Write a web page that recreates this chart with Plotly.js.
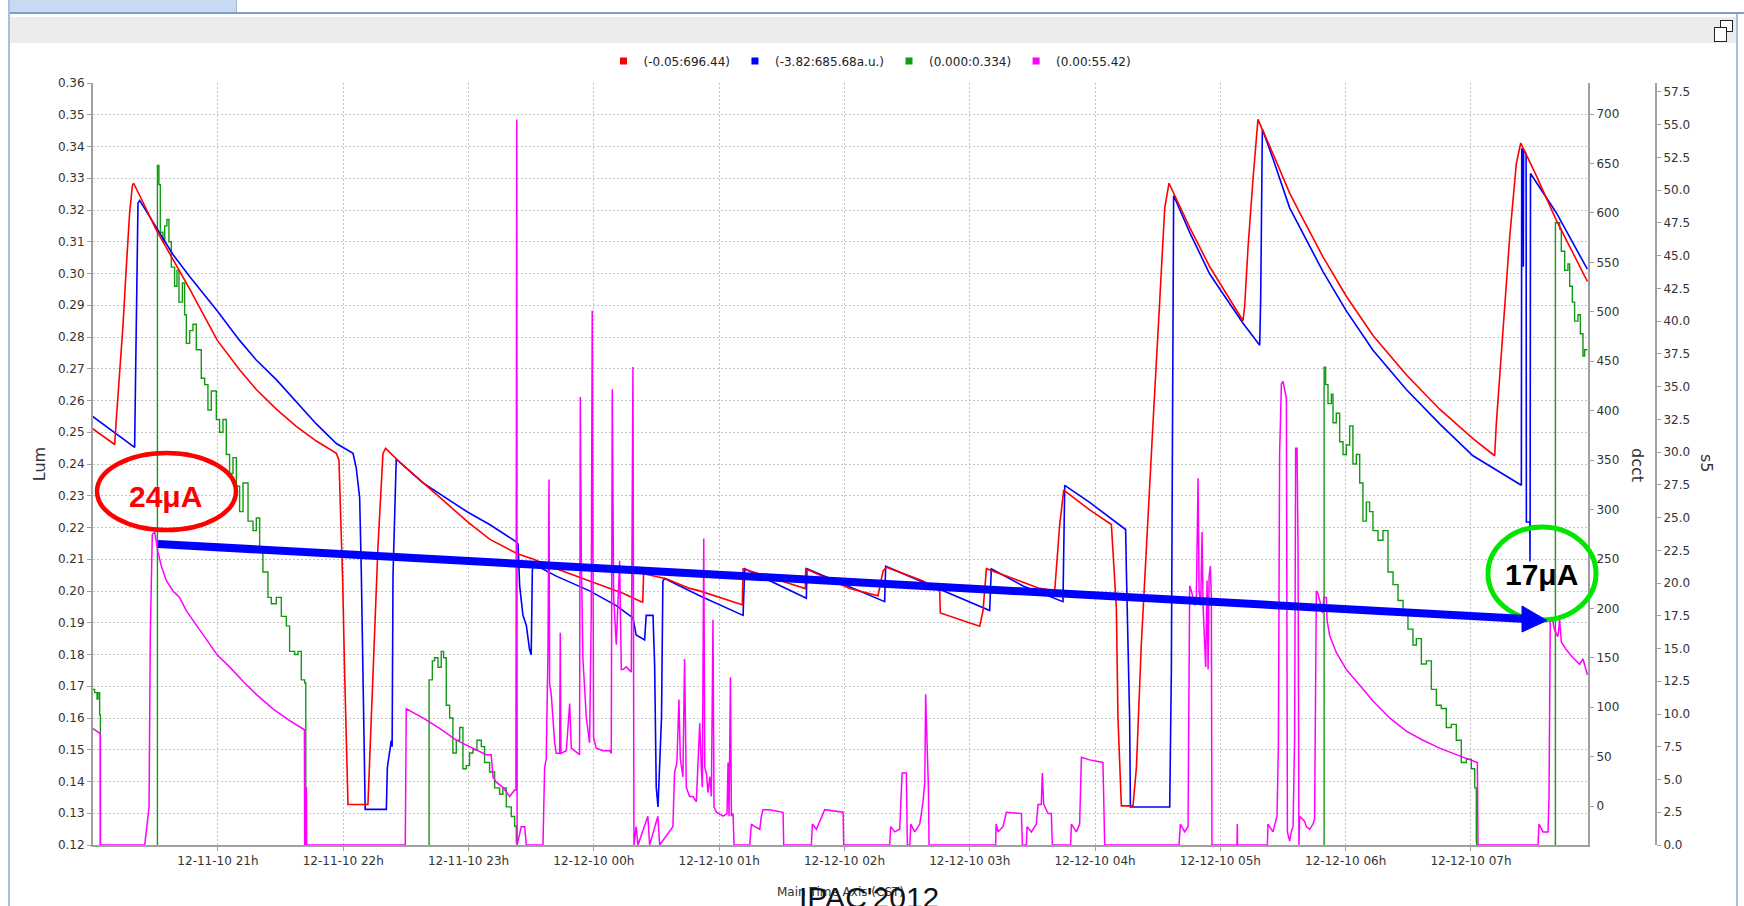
<!DOCTYPE html>
<html>
<head>
<meta charset="utf-8">
<script src="https://cdn.plot.ly/plotly-3.0.1.min.js"></script>
<style>
  html, body { margin: 0; padding: 0; background: #ffffff; width: 1744px; height: 906px; overflow: hidden; }
  .frame { position: absolute; }
  #chart { position: absolute; left: 0; top: 0; width: 1744px; height: 906px; }
</style>
</head>
<body>
<div class="frame" style="left:10px;top:0;width:226px;height:12px;background:#c6daf1;border-right:1px solid #9fb6da;"></div>
<div class="frame" style="left:9px;top:12px;width:1735px;height:2px;background:#7f9dcc;"></div>
<div class="frame" style="left:10px;top:17px;width:1727px;height:26px;background:#ececec;"></div>
<div class="frame" style="left:8px;top:0;width:2px;height:906px;background:#a9bfe1;"></div>
<div class="frame" style="left:1736px;top:14px;width:2px;height:892px;background:#a9bfe1;"></div>
<div class="frame" style="left:1720px;top:20px;width:11px;height:10px;border:1.5px solid #222;background:#fff;"></div>
<div class="frame" style="left:1714px;top:27px;width:11px;height:13px;border:1.5px solid #222;background:#fff;"></div>
<div id="chart"></div>
<script>
// ---- time offsets are hours after 2010-12-11 20:00 (CST) ----
// red series (dcct axis)
const redH = [0.000,0.176,0.189,0.215,0.242,0.269,0.295,0.317,0.327,0.375,0.508,0.641,0.774,0.995,1.173,1.306,1.466,1.625,1.785,1.945,1.966,1.980,1.995,2.010,2.025,2.038,2.197,2.237,2.277,2.317,2.338,2.450,2.636,2.995,3.168,3.394,3.514,3.700,3.966,4.232,4.378,4.390,4.397,4.578,4.765,4.844,5.177,5.185,5.191,5.683,5.688,5.691,6.042,6.268,6.290,6.308,6.335,6.627,6.760,6.765,7.079,7.106,7.133,7.239,7.558,7.678,7.691,7.718,7.750,7.957,8.130,8.149,8.170,8.183,8.202,8.210,8.303,8.330,8.369,8.409,8.462,8.516,8.556,8.590,8.755,8.915,9.021,9.181,9.194,9.221,9.261,9.300,9.420,9.553,9.633,9.819,10.005,10.218,10.484,10.750,11.016,11.189,11.202,11.256,11.309,11.362,11.397,11.522,11.681,11.929];
const redV = [381.7,365.8,391.6,436.3,486.0,545.6,600.3,627.6,630.1,617.7,582.9,553.1,523.3,471.1,441.3,421.4,401.5,384.2,369.3,356.8,350.0,290.0,230.0,140.0,60.0,1.6,1.6,138.4,262.4,356.8,361.8,348.0,327.0,287.3,270.0,255.0,250.0,240.0,227.7,215.3,206.8,206.5,235.1,230.0,220.2,217.7,203.8,203.5,240.1,220.2,220.0,240.0,220.2,212.8,225.0,237.6,241.6,227.7,217.7,195.4,182.0,197.8,240.1,235.1,220.2,217.7,237.6,284.8,319.6,299.7,284.8,242.6,200.4,88.6,9.1,0.2,0.2,39.0,163.1,262.4,386.6,510.8,605.0,630.1,585.4,545.6,523.3,491.0,505.9,565.5,635.1,694.7,659.9,620.1,600.3,555.6,515.8,476.1,436.3,401.5,371.8,354.4,386.6,486.0,575.4,649.9,670.8,637.5,592.8,530.7];

// blue series (dcct axis)
const blueH = [0.000,0.335,0.343,0.362,0.375,0.508,0.641,0.774,0.995,1.173,1.306,1.466,1.625,1.785,1.945,2.078,2.104,2.131,2.144,2.157,2.171,2.175,2.344,2.352,2.383,2.390,2.397,2.410,2.423,2.636,2.995,3.168,3.381,3.395,3.408,3.434,3.461,3.487,3.500,3.509,3.514,3.700,3.966,4.179,4.312,4.338,4.405,4.418,4.472,4.485,4.498,4.512,4.525,4.540,4.551,4.565,4.844,5.191,5.204,5.696,5.701,6.321,6.329,7.159,7.172,7.425,7.744,7.758,7.957,8.244,8.250,8.263,8.276,8.282,8.596,8.609,8.617,8.627,8.755,8.915,9.021,9.181,9.314,9.322,9.335,9.420,9.553,9.819,10.005,10.218,10.484,10.750,11.016,11.402,11.405,11.415,11.418,11.420,11.440,11.442,11.470,11.471,11.472,11.475,11.681,11.929];
const blueV = [394.1,362.8,436.3,610.2,612.7,585.4,558.0,535.7,500.9,471.1,451.2,431.4,409.0,386.6,366.8,356.8,341.9,312.1,237.6,138.4,14.0,-3.4,-3.4,38.9,66.2,60.0,232.6,287.3,350.9,327.0,297.2,284.8,267.4,265.0,222.7,192.9,183.0,158.1,153.2,237.6,245.0,232.6,217.7,202.8,190.4,173.0,168.0,192.9,192.9,143.2,19.0,-0.9,48.8,90.0,227.7,230.2,212.8,192.9,240.1,210.3,240.1,206.8,242.6,197.8,240.1,222.7,206.8,324.5,307.2,279.8,237.6,163.1,88.6,-1.0,-1.0,138.4,436.3,617.7,580.4,538.2,518.3,488.5,466.1,515.8,684.7,654.9,605.2,540.7,500.9,461.2,421.4,386.6,354.4,324.5,664.8,664.8,545.6,664.0,660.0,287.3,287.3,247.5,287.3,640.0,600.3,543.1];

// green series (Lum axis)
const greenH = [0.000,0.016,0.035,0.043,0.056,0.061,0.062,0.516,0.517,0.529,0.540,0.561,0.575,0.593,0.609,0.628,0.654,0.673,0.689,0.716,0.734,0.748,0.774,0.801,0.827,0.867,0.894,0.920,0.947,0.987,1.013,1.040,1.067,1.093,1.120,1.147,1.173,1.200,1.240,1.280,1.306,1.333,1.359,1.399,1.426,1.466,1.506,1.546,1.572,1.612,1.639,1.665,1.692,1.700,1.701,2.684,2.685,2.711,2.729,2.756,2.782,2.801,2.822,2.849,2.875,2.902,2.929,2.955,2.982,3.008,3.035,3.067,3.102,3.128,3.168,3.208,3.248,3.274,3.301,3.341,3.368,3.381,3.386,9.827,9.828,9.840,9.859,9.886,9.899,9.925,9.952,9.979,10.005,10.032,10.058,10.085,10.112,10.138,10.165,10.191,10.218,10.258,10.298,10.338,10.378,10.418,10.458,10.497,10.537,10.564,10.604,10.644,10.684,10.724,10.763,10.803,10.843,10.883,10.923,10.963,11.003,11.030,11.043,11.045,11.673,11.674,11.708,11.721,11.748,11.774,11.788,11.809,11.827,11.854,11.873,11.894,11.907,11.929];
const greenV = [0.169,0.168,0.166,0.168,0.161,0.161,0.000,0.000,0.334,0.328,0.313,0.310,0.315,0.317,0.310,0.302,0.296,0.301,0.291,0.297,0.287,0.278,0.282,0.284,0.276,0.267,0.265,0.257,0.263,0.254,0.250,0.254,0.243,0.237,0.242,0.233,0.225,0.234,0.222,0.219,0.223,0.212,0.206,0.198,0.196,0.198,0.192,0.189,0.181,0.180,0.181,0.172,0.171,0.171,0.000,0.000,0.172,0.178,0.179,0.176,0.181,0.179,0.164,0.160,0.149,0.153,0.157,0.144,0.145,0.149,0.150,0.153,0.151,0.146,0.143,0.138,0.136,0.138,0.132,0.129,0.126,0.121,0.000,0.000,0.2705,0.265,0.259,0.262,0.253,0.256,0.247,0.243,0.246,0.252,0.240,0.243,0.234,0.222,0.228,0.225,0.219,0.216,0.219,0.206,0.202,0.197,0.194,0.188,0.183,0.185,0.177,0.178,0.169,0.164,0.163,0.157,0.158,0.153,0.146,0.147,0.144,0.138,0.121,0.000,0.000,0.316,0.314,0.307,0.301,0.303,0.296,0.291,0.285,0.287,0.281,0.274,0.276,0.276];

// magenta series (s5 axis)
const magH = [0.000,0.056,0.061,0.062,0.415,0.428,0.450,0.460,0.468,0.476,0.495,0.508,0.521,0.548,0.588,0.641,0.694,0.747,0.827,0.907,0.995,1.093,1.200,1.306,1.439,1.572,1.679,1.690,1.692,1.705,1.706,1.708,2.495,2.503,2.636,2.769,2.902,3.035,3.141,3.181,3.195,3.221,3.274,3.328,3.368,3.378,3.381,3.385,3.388,3.421,3.448,3.461,3.594,3.607,3.620,3.634,3.642,3.647,3.660,3.674,3.687,3.700,3.727,3.732,3.737,3.780,3.807,3.820,3.886,3.892,3.900,3.913,3.940,3.966,3.979,3.987,3.998,4.019,4.073,4.126,4.139,4.147,4.158,4.179,4.206,4.219,4.232,4.259,4.299,4.312,4.320,4.338,4.352,4.431,4.445,4.511,4.525,4.631,4.644,4.663,4.679,4.690,4.711,4.724,4.738,4.764,4.792,4.818,4.832,4.845,4.858,4.866,4.877,4.885,4.898,4.911,4.925,4.938,4.951,4.959,4.978,5.031,5.063,5.071,5.079,5.090,5.098,5.111,5.119,5.244,5.257,5.284,5.324,5.337,5.350,5.403,5.510,5.515,5.736,5.744,5.776,5.802,5.829,5.843,5.989,5.994,6.361,6.369,6.401,6.441,6.460,6.494,6.502,6.522,6.529,6.561,6.601,6.627,6.641,6.648,6.659,6.670,6.675,7.207,7.210,7.225,7.265,7.292,7.412,7.420,7.452,7.457,7.492,7.531,7.545,7.571,7.579,7.590,7.625,7.651,7.659,7.805,7.811,7.851,7.877,7.891,7.957,8.063,8.077,8.670,8.681,8.715,8.742,8.755,8.769,8.782,8.795,8.808,8.822,8.830,8.843,8.854,8.862,8.875,8.883,8.894,8.902,8.910,8.920,8.928,8.933,9.133,9.135,9.137,9.375,9.380,9.420,9.452,9.463,9.473,9.487,9.500,9.527,9.535,9.553,9.566,9.580,9.593,9.601,9.612,9.620,9.627,9.633,9.673,9.686,9.713,9.739,9.752,9.766,9.779,9.792,9.814,9.827,9.846,9.851,9.872,9.925,10.005,10.085,10.218,10.351,10.484,10.617,10.750,10.883,10.990,11.051,11.056,11.535,11.543,11.575,11.615,11.623,11.633,11.646,11.668,11.694,11.708,11.721,11.761,11.814,11.867,11.894,11.929];
const magV = [8.9,8.5,8.5,0.0,0.0,1.0,2.9,16.0,20.9,23.7,23.9,23.0,22.4,21.3,20.2,19.4,18.9,17.9,16.8,15.7,14.5,13.6,12.5,11.5,10.4,9.5,8.9,8.8,0.0,0.0,4.4,0.0,0.0,10.4,9.7,8.9,8.0,7.4,6.9,6.9,5.2,4.8,4.4,3.7,4.2,4.2,55.4,55.4,0.0,1.4,1.4,0.0,0.0,5.9,6.6,14.9,27.9,12.3,11.5,9.7,7.8,7.0,7.0,16.2,7.0,7.2,10.8,7.4,6.9,34.2,21.7,14.2,9.7,7.8,17.5,40.8,8.2,7.4,7.2,7.2,7.0,34.8,19.0,15.3,21.7,13.4,13.4,13.6,13.2,36.5,0.0,1.4,0.0,2.2,0.0,2.2,0.0,1.4,5.5,6.3,11.1,6.6,5.2,14.2,4.4,3.7,3.7,3.3,6.3,9.3,5.9,4.4,23.4,5.9,5.5,4.0,5.2,3.7,17.2,2.9,2.5,2.2,2.4,6.3,2.2,12.8,2.2,2.4,0.0,0.0,1.6,1.4,1.2,2.2,2.7,2.7,2.5,0.0,0.0,1.6,1.2,1.8,2.5,2.7,2.5,0.0,0.0,1.4,1.0,1.2,5.5,5.5,0.0,0.0,1.6,1.0,1.6,3.3,4.8,11.5,7.8,4.4,0.0,0.0,1.6,1.0,1.4,2.5,2.4,0.0,0.0,1.4,1.0,1.6,3.1,3.1,5.5,3.1,2.4,2.4,0.0,0.0,1.6,1.0,1.6,6.7,6.5,6.3,0.0,0.0,1.6,1.0,1.4,19.8,19.4,18.7,18.3,18.7,28.0,19.4,18.3,23.9,18.3,15.3,13.6,20.2,13.4,20.5,21.3,19.0,0.0,0.0,1.6,0.0,0.0,1.6,1.0,2.2,7.4,29.9,35.2,35.4,34.1,1.0,0.3,1.0,1.4,8.2,30.3,30.3,22.4,0.0,2.2,1.8,1.4,1.2,1.6,2.0,19.4,19.2,18.7,17.7,18.9,18.9,17.2,16.0,14.7,13.4,12.5,11.0,9.7,8.7,8.0,7.4,6.9,6.5,6.3,0.0,0.0,1.6,1.0,1.0,3.7,17.2,17.4,16.4,15.9,17.2,15.5,14.9,14.3,13.8,14.2,13.0];

const legendNames = ['(-0.05:696.44)', '(-3.82:685.68a.u.)', '(0.000:0.334)', '(0.00:55.42)'];
const seriesColors = ['#ff0000', '#0000ff', '#139a13', '#ff00ff'];

const base = Date.UTC(2010, 11, 11, 20, 0, 0);
function toDate(h) {
  return new Date(base + Math.round(h * 3600000)).toISOString().replace('T', ' ').slice(0, 19);
}
const dates = arr => arr.map(toDate);

const traces = [
  {x: dates(blueH), y: blueV, yaxis: 'y2', mode: 'lines', line: {color: seriesColors[1], width: 1.6}, showlegend: false, name: legendNames[1]},
  {x: dates(redH), y: redV, yaxis: 'y2', mode: 'lines', line: {color: seriesColors[0], width: 1.6}, showlegend: false, name: legendNames[0]},
  {x: dates(magH), y: magV, yaxis: 'y3', mode: 'lines', line: {color: seriesColors[3], width: 1.5}, showlegend: false, name: legendNames[3]},
  {x: dates(greenH), y: greenV, yaxis: 'y', mode: 'lines', line: {color: seriesColors[2], width: 1.4, shape: 'hv'}, showlegend: false, name: legendNames[2]}
];
// legend entries (square swatches like the original)
legendNames.forEach((n, i) => {
  traces.push({x: [null], y: [null], mode: 'markers', name: n, showlegend: true,
    marker: {symbol: 'square', size: 7, color: seriesColors[i]}});
});

const tickFont = {family: 'DejaVu Sans, sans-serif', size: 12, color: '#333333'};
const axisGray = '#a0a0a0';
const W = 1563, X0 = 93, Y0 = 845, H = 762;
const px = x => (x - X0) / W;
const py = y => (Y0 - y) / H;

const layout = {
  width: 1744, height: 906,
  margin: {l: 93, r: 88, t: 83, b: 61},
  paper_bgcolor: 'rgba(0,0,0,0)',
  plot_bgcolor: '#ffffff',
  font: {family: 'DejaVu Sans, sans-serif', color: '#333333'},
  showlegend: true,
  legend: {orientation: 'h', x: px(870), y: py(61), xanchor: 'center', yanchor: 'middle',
    font: {family: 'DejaVu Sans, sans-serif', size: 12, color: '#222222'}, bgcolor: 'rgba(0,0,0,0)', itemwidth: 30, tracegroupgap: 0},
  xaxis: {
    type: 'date', domain: [0, 1495 / 1563],
    range: [toDate(0.003), toDate(11.934)],
    tick0: '2010-12-11 21:00:00', dtick: 3600000, tickformat: '%m-%d-%y %Hh',
    showgrid: true, gridcolor: '#c4c4c4', griddash: '2px,2px', gridwidth: 1,
    showline: true, linecolor: axisGray, linewidth: 2,
    ticks: 'outside', ticklen: 4, tickcolor: axisGray,
    tickfont: tickFont, zeroline: false,
    title: {text: 'Main Time Axis (CST)', font: {family: 'DejaVu Sans, sans-serif', size: 12, color: '#333'}, standoff: 20}
  },
  yaxis: {
    range: [0.12, 0.36], dtick: 0.01, tick0: 0.12, tickformat: '.2f',
    showgrid: true, gridcolor: '#c4c4c4', griddash: '2px,2px', gridwidth: 1,
    showline: true, linecolor: axisGray, linewidth: 2,
    ticks: 'outside', ticklen: 4, tickcolor: axisGray, tickfont: tickFont, zeroline: false,
    title: {text: 'Lum', font: {family: 'DejaVu Sans, sans-serif', size: 16, color: '#333'}, standoff: 8}
  },
  yaxis2: {
    overlaying: 'y', side: 'right', anchor: 'x',
    range: [-39.4, 731.5], dtick: 50, tick0: 0,
    showgrid: false, zeroline: false,
    showline: true, linecolor: axisGray, linewidth: 2,
    ticks: 'outside', ticklen: 4, tickcolor: axisGray, tickfont: tickFont
  },
  yaxis3: {
    overlaying: 'y', side: 'right', anchor: 'free', position: 1,
    range: [0, 58.18], dtick: 2.5, tick0: 0, tickformat: '.1f',
    showgrid: false, zeroline: false,
    showline: true, linecolor: axisGray, linewidth: 2,
    ticks: 'outside', ticklen: 4, tickcolor: axisGray, tickfont: tickFont
  },
  shapes: [
    {type: 'circle', xref: 'paper', yref: 'paper', x0: px(97), x1: px(236), y0: py(530), y1: py(453),
      line: {color: '#ff0000', width: 4.5}},
    {type: 'circle', xref: 'paper', yref: 'paper', x0: px(1488), x1: px(1596), y0: py(620), y1: py(527),
      line: {color: '#00e600', width: 5}},
    {type: 'line', xref: 'paper', yref: 'paper', x0: px(158), y0: py(544), x1: px(1526), y1: py(619),
      line: {color: '#0000ff', width: 8}},
    {type: 'path', xref: 'paper', yref: 'paper',
      path: 'M ' + px(1547) + ' ' + py(620.5) + ' L ' + px(1522) + ' ' + py(606) + ' L ' + px(1522) + ' ' + py(632) + ' Z',
      fillcolor: '#0000ff', line: {color: '#0000ff', width: 1}}
  ],
  annotations: [
    {xref: 'paper', yref: 'paper', x: px(1637), y: py(465), xanchor: 'center', yanchor: 'middle', text: 'dcct', showarrow: false, textangle: 90,
      font: {family: 'DejaVu Sans, sans-serif', size: 16, color: '#333'}},
    {xref: 'paper', yref: 'paper', x: px(1707), y: py(463), xanchor: 'center', yanchor: 'middle', text: 's5', showarrow: false, textangle: 90,
      font: {family: 'DejaVu Sans, sans-serif', size: 16, color: '#333'}},
    {xref: 'paper', yref: 'paper', x: px(165), y: py(496), xanchor: 'center', yanchor: 'middle', text: '<b>24μA</b>', showarrow: false,
      font: {family: 'Liberation Sans, Arial, sans-serif', size: 30, color: '#ff0000'}},
    {xref: 'paper', yref: 'paper', x: px(1541), y: py(574), xanchor: 'center', yanchor: 'middle', text: '<b>17μA</b>', showarrow: false,
      font: {family: 'Liberation Sans, Arial, sans-serif', size: 30, color: '#000000'}},
    {xref: 'paper', yref: 'paper', x: px(869), y: py(879), xanchor: 'center', yanchor: 'top', text: "IPAC'2012", showarrow: false,
      font: {family: 'Liberation Sans, Arial, sans-serif', size: 30, color: '#111111'}}
  ]
};

Plotly.newPlot('chart', traces, layout, {displayModeBar: false, staticPlot: true});
</script>
</body>
</html>
